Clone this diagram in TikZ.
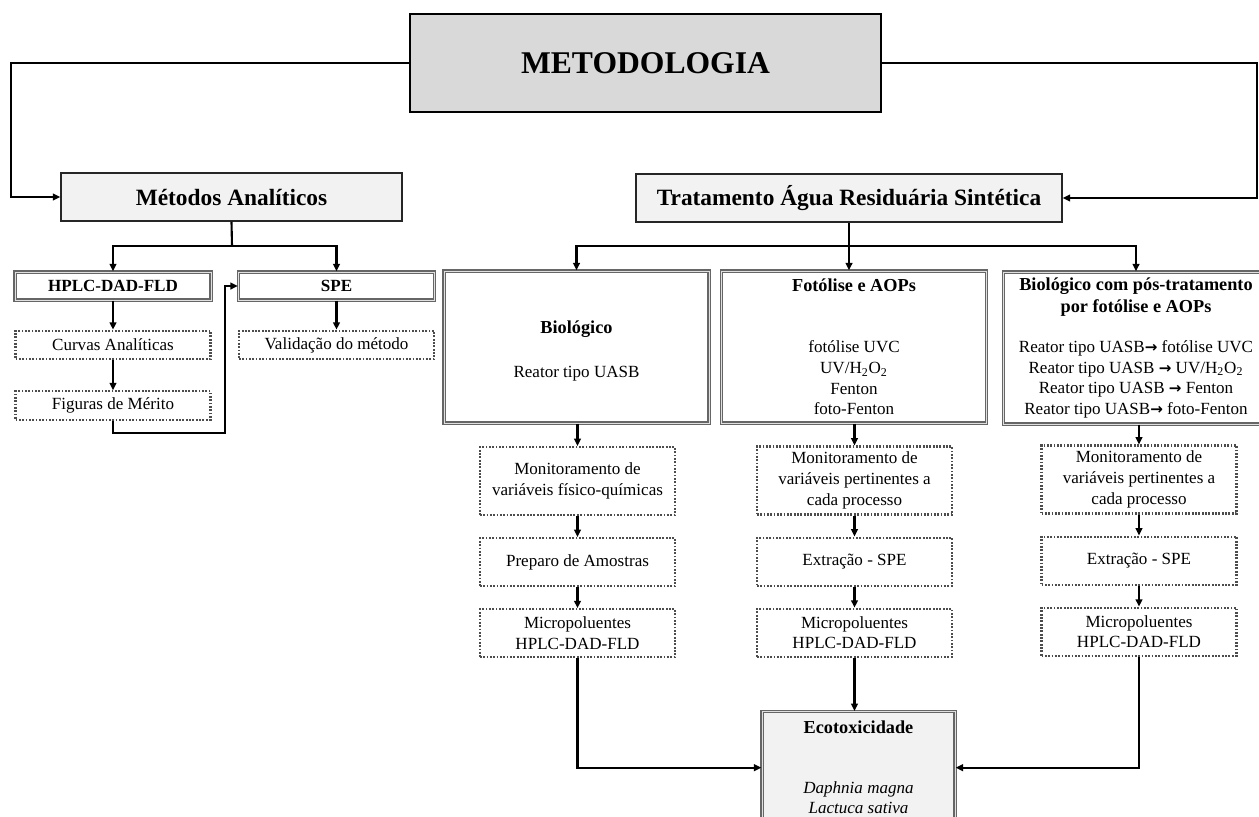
\documentclass[tikz,border=0pt]{standalone}
\usepackage{fontspec}
\setmainfont{Liberation Serif}
\newfontfamily\arrowfont{DejaVu Sans}
\usetikzlibrary{
    arrows.meta,    % For arrow tips
    positioning     % For relative positioning of nodes
}
\newcommand{\hd}[1]{{\fontsize{10.4}{12.4}\selectfont\bfseries #1}}
\newcommand{\ra}{{\arrowfont\fontsize{8.6}{10}\selectfont\bfseries →}}
\tikzset{
    % Style for the main title box
    titlebox/.style={
        draw,
        line width=1.6pt,
        fill=black!15,
        minimum width=9.42cm,
        minimum height=1.96cm,
        font=\fontsize{18}{22}\selectfont\bfseries
    },
    % Style for the two section headers
    header/.style={
        draw=black!85,
        line width=0.85pt,
        fill=black!5,
        minimum height=0.96cm,
        font=\fontsize{13.3}{16}\selectfont\bfseries
    },
    % Style for the double framed boxes
    framed/.style={
        draw=black!60,
        line width=0.75pt,
        double=black!12,
        double distance=0.5pt,
        align=center,
        inner sep=2pt,
        font=\fontsize{9.7}{11.8}\selectfont
    },
    % Style for the dotted step boxes
    stepbox/.style={
        draw=black!70,
        line width=1.2pt,
        dash pattern=on 1pt off 0.9pt,
        minimum width=3.9cm,
        align=center,
        inner sep=2pt,
        font=\fontsize{9.7}{11.8}\selectfont
    },
    % Style for the connecting arrows
    arrow/.style={
        -{Triangle[length=4.2pt,width=3.8pt]},
        line width=1.2pt
    },
    % Style for plain connecting lines
    link/.style={
        line width=1.2pt
    }
}

\begin{document}
\begin{tikzpicture}[x=0.02cm, y=-0.02cm]
    \useasboundingbox (0,0) rectangle (1259,816);
    \clip (0,0) rectangle (1259,816);

    % --- Title and the two sections ---
    \node (metod)   [titlebox] at (645.5,63) {METODOLOGIA};
    \node (metodos) [header, minimum width=6.82cm] at (231.5,197) {Métodos Analíticos};
    \node (trat)    [header, minimum width=8.52cm] at (849,198) {Tratamento Água Residuária Sintética};

    % --- Métodos Analíticos branch ---
    \node (hplc)    [framed, minimum width=3.92cm, minimum height=0.56cm, font=\fontsize{9.7}{11.8}\selectfont\bfseries] at (113,286) {HPLC-DAD-FLD};
    \node (spe)     [framed, minimum width=3.92cm, minimum height=0.56cm, font=\fontsize{9.7}{11.8}\selectfont\bfseries] at (336.5,286) {SPE};
    \node (curvas)  [stepbox, minimum height=0.57cm, below=0.58cm of hplc] {Curvas Analíticas};
    \node (valid)   [stepbox, minimum height=0.57cm, below=0.58cm of spe] {Validação do método};
    \node (figuras) [stepbox, minimum height=0.57cm, below=0.6cm of curvas] {Figuras de Mérito};

    % --- Treatment boxes ---
    \node (bio)  [framed, minimum width=5.3cm, minimum height=3.04cm] at (576.5,347)
        {\rule{0pt}{12pt}\hd{Biológico}\\[13pt]Reator tipo UASB};
    \node (foto) [framed, minimum width=5.3cm, minimum height=3.04cm] at (854,347)
        {\hd{Fotólise e AOPs}\\[23pt]fotólise UVC\\UV/H\textsubscript{2}O\textsubscript{2}\\Fenton\\foto-Fenton};
    \node (pos)  [framed, minimum width=5.3cm, minimum height=3.04cm] at (1136,348)
        {\hd{Biológico com pós-tratamento}\\[0.6pt]\hd{por fotólise e AOPs}\\[11pt]
         Reator tipo UASB\ra\ fotólise UVC\\Reator tipo UASB \ra\ UV/H\textsubscript{2}O\textsubscript{2}\\
         Reator tipo UASB \ra\ Fenton\\Reator tipo UASB\ra\ foto-Fenton};

    % --- Steps below each treatment ---
    \node (bioMon)    [stepbox, minimum height=1.36cm] at (577.5,481) {Monitoramento de\\variáveis físico-químicas};
    \node (bioPrep)   [stepbox, minimum height=0.96cm, below=0.42cm of bioMon] {Preparo de Amostras};
    \node (bioMicro)  [stepbox, minimum height=0.96cm, below=0.42cm of bioPrep] {Micropoluentes\\HPLC-DAD-FLD};

    \node (fotoMon)   [stepbox, minimum height=1.36cm] at (854.5,480.5) {Monitoramento de\\variáveis pertinentes a\\cada processo};
    \node (fotoExt)   [stepbox, minimum height=0.96cm, below=0.42cm of fotoMon] {Extração - SPE};
    \node (fotoMicro) [stepbox, minimum height=0.96cm, below=0.42cm of fotoExt] {Micropoluentes\\HPLC-DAD-FLD};

    \node (posMon)    [stepbox, minimum height=1.36cm] at (1139,479.5) {Monitoramento de\\variáveis pertinentes a\\cada processo};
    \node (posExt)    [stepbox, minimum height=0.96cm, below=0.42cm of posMon] {Extração - SPE};
    \node (posMicro)  [stepbox, minimum height=0.96cm, below=0.42cm of posExt] {Micropoluentes\\HPLC-DAD-FLD};

    % --- Ecotoxicity ---
    \node (ecotox) [framed, fill=black!5, minimum width=3.86cm, minimum height=2.24cm, anchor=north] at (858.5,711)
        {\hd{Ecotoxicidade}\\[22pt]\textit{Daphnia magna}\\\textit{Lactuca sativa}};

    % --- Connectors from the title ---
    \coordinate (lcorner) at (11,63);
    \coordinate (rcorner) at (1257,63);
    \draw[arrow] (metod.west) -- (lcorner) |- (metodos.west);
    \draw[arrow] (metod.east) -- (rcorner) |- (trat.east);

    % --- Connectors of Métodos Analíticos ---
    \coordinate (msplit) at (232,246);
    \draw[link]  (metodos.south) -- (msplit);
    \draw[arrow] (msplit) -| (hplc.north);
    \draw[arrow] (msplit) -| (spe.north);
    \draw[arrow] (hplc) -- (curvas);
    \draw[arrow] (curvas) -- (figuras);
    \draw[arrow] (spe) -- (valid);
    \coordinate (floop) at (225,433);
    \draw[arrow] (figuras.south) |- (floop) |- (spe.west);

    % --- Connectors of the treatment ---
    \coordinate (tsplit) at (849,246);
    \draw[link]  (trat.south) -- (tsplit);
    \draw[arrow] (tsplit) -| (bio.north);
    \draw[arrow] (tsplit) -- (tsplit |- foto.north);
    \draw[arrow] (tsplit) -| (pos.north);
    \foreach \col/\mid in {bio/Prep, foto/Ext, pos/Ext} {
        \draw[arrow] (\col Mon.north |- \col.south) -- (\col Mon.north);
        \draw[arrow] (\col Mon) -- (\col\mid);
        \draw[arrow] (\col\mid) -- (\col Micro);
    }

    % --- Connectors to Ecotoxicidade ---
    \draw[arrow] (bioMicro.south) |- (ecotox.west);
    \draw[arrow] (fotoMicro.south) -- (fotoMicro.south |- ecotox.north);
    \draw[arrow] (posMicro.south) |- (ecotox.east);
\end{tikzpicture}
\end{document}
